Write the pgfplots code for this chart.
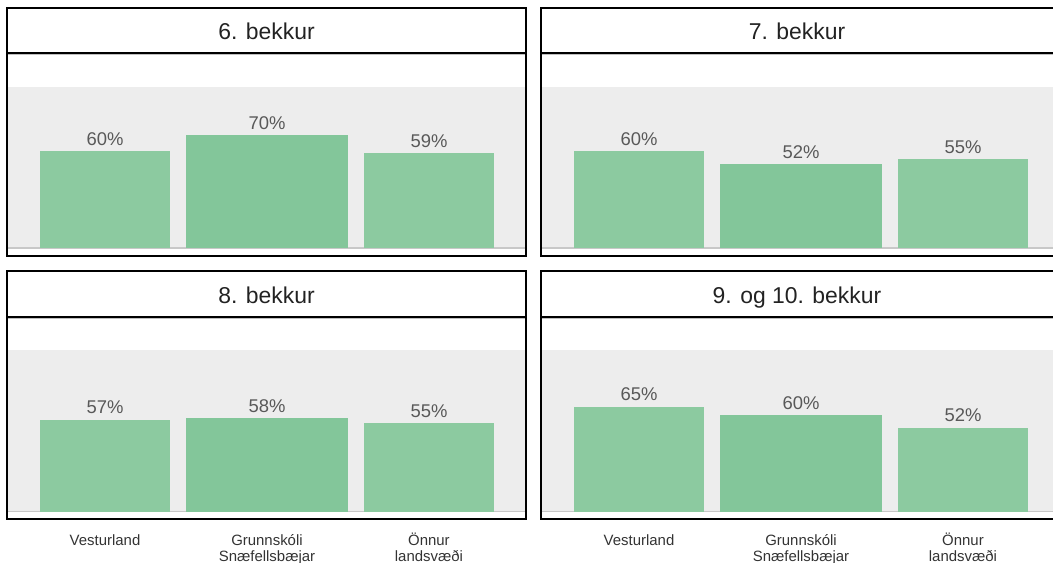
\documentclass[border=0pt]{standalone}
\usepackage{pgfplots}
\pgfplotsset{compat=1.18}
\usepackage{fontspec}
\setmainfont{Liberation Sans}
\definecolor{barA}{HTML}{8CCAA0}
\definecolor{barB}{HTML}{83C69A}
\definecolor{bgg}{HTML}{EDEDED}
\definecolor{basel}{HTML}{C8C8C8}
\definecolor{valc}{HTML}{595959}
\definecolor{titc}{HTML}{222222}
\definecolor{labc}{HTML}{333333}
\newcommand{\fl}{\rule{0pt}{14bp}}
\pgfplotsset{
  panelstyle/.style={
    anchor=south west, scale only axis, width=517bp, height=161bp,
    xmin=-0.599, xmax=2.593, ymin=0, ymax=100,
    axis background/.style={fill=bgg},
    axis x line*=bottom, axis y line=none,
    x axis line style={draw=basel, line width=1.5bp, -},
    ytick=\empty, xtick={0,1,2}, major tick length=0pt,
    xticklabels={},
    ybar,
    /pgf/number format/assume math mode=true,
    nodes near coords={\pgfmathprintnumber{\pgfplotspointmeta}\%},
    nodes near coords style={font=\fontsize{18.5}{21}\selectfont, text=valc, inner sep=0pt, anchor=south, yshift=5.5bp},
    every axis plot/.append style={draw=none, bar shift=0pt},
    clip=false,
  },
  labstyle/.style={
    xticklabels={{\fl Vesturland},{\fl Grunnskóli\\Snæfellsbæjar},{\fl Önnur\\landsvæði}},
    xticklabel style={align=center, anchor=north, inner sep=0pt, yshift=-19.5bp, font=\fontsize{15}{16.3}\selectfont, text=labc},
  },
}
\begin{document}
\begin{tikzpicture}
\path[use as bounding box] (0,0) rectangle (1053bp,563bp);
% top left
\begin{axis}[panelstyle, at={(8bp,315bp)}]
\addplot[fill=barA, bar width=0.802] coordinates {(0,60)};
\addplot[fill=barB, bar width=1.006] coordinates {(1,70)};
\addplot[fill=barA, bar width=0.802] coordinates {(2,59)};
\end{axis}
% top right
\begin{axis}[panelstyle, at={(542bp,315bp)}]
\addplot[fill=barA, bar width=0.802] coordinates {(0,60)};
\addplot[fill=barB, bar width=1.006] coordinates {(1,52)};
\addplot[fill=barA, bar width=0.802] coordinates {(2,55)};
\end{axis}
% bottom left
\begin{axis}[panelstyle, labstyle, at={(8bp,51.5bp)}]
\addplot[fill=barA, bar width=0.802] coordinates {(0,57)};
\addplot[fill=barB, bar width=1.006] coordinates {(1,58)};
\addplot[fill=barA, bar width=0.802] coordinates {(2,55)};
\end{axis}
% bottom right
\begin{axis}[panelstyle, labstyle, at={(542bp,51.5bp)}]
\addplot[fill=barA, bar width=0.802] coordinates {(0,65)};
\addplot[fill=barB, bar width=1.006] coordinates {(1,60)};
\addplot[fill=barA, bar width=0.802] coordinates {(2,52)};
\end{axis}
% frames and titles
\foreach \xl/\xr in {7/526, 541/1060}{
  \foreach \yt/\yb/\ys in {554.5/306.5/510, 291.5/44/246}{
    \draw[line width=2bp, black] (\xl bp,\yb bp) rectangle (\xr bp,\yt bp);
    \draw[line width=1bp, black!25] (\xl bp+1bp,\ys bp-1.8bp) -- (\xr bp-1bp,\ys bp-1.8bp);
    \draw[line width=2.6bp, black] (\xl bp,\ys bp) -- (\xr bp,\ys bp);
  }
}
\node[font=\fontsize{23}{27}\selectfont, text=titc, anchor=base] at (266.5bp,523bp) {6. bekkur};
\node[font=\fontsize{23}{27}\selectfont, text=titc, anchor=base] at (797bp,523bp) {7. bekkur};
\node[font=\fontsize{23}{27}\selectfont, text=titc, anchor=base] at (266.5bp,259bp) {8. bekkur};
\node[font=\fontsize{23}{27}\selectfont, text=titc, anchor=base] at (797bp,259bp) {9. og 10. bekkur};
\end{tikzpicture}
\end{document}
